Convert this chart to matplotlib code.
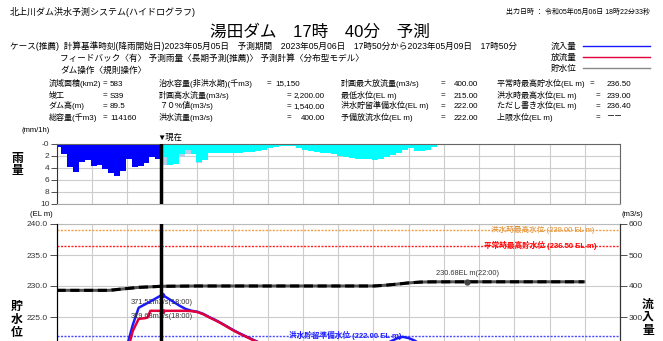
import matplotlib
matplotlib.use('Agg')
import matplotlib.pyplot as plt
from matplotlib.lines import Line2D

plt.rcParams['font.family'] = ['Liberation Sans', 'Noto Sans CJK JP', 'DejaVu Sans']

# hours counted from 2023-05-06 00:00, hourly rain bars
now_h = 17 + 50 / 60
x_end = 96

obs_rain = [0.55, 1.8, 3.9, 4.7, 3.1, 2.8, 3.75, 3.6, 4.2, 4.9, 5.4, 4.6,
            2.65, 3.9, 3.75, 3.2, 2.2, 2.5]
fc_rain = [2.2, 3.5, 3.4, 1.8, 1.0, 1.8, 3.0, 2.7, 1.5, 1.5, 1.55, 1.55,
           1.55, 1.5, 1.45, 1.35, 1.3, 1.1, 0.8, 0.55, 0.35, 0.35, 0.4, 0.7,
           1.0, 1.3, 1.45, 1.55, 1.6, 1.8, 2.1, 2.3, 2.45, 2.55, 2.6, 2.65,
           2.7, 2.5, 2.3, 1.9, 1.5, 1.0, 0.7, 1.3, 1.2, 1.0, 0.6, 0.3]
fc_rain_pale = [3.6, 3.5, 3.4, 2.2, 1.7, 1.8, 3.3, 2.7]

inflow_h = [0, 6, 10, 11, 12, 13, 14, 15, 16, 17, 18, 19, 20, 21, 22, 23, 24,
            25, 26, 27, 28, 29, 30, 31, 32, 33, 34, 35, 36, 40, 45, 50, 54,
            56, 57, 58, 59, 60, 61, 62, 64, 70, 80, now_h + 72]
inflow = [120, 125, 140, 160, 205, 275, 330, 340, 350, 361, 371.52, 360, 348,
          336, 326, 320, 317, 310, 300, 291, 281, 270, 259, 249, 240, 231,
          222, 214, 206, 188, 175, 172, 190, 212, 222, 231, 236, 232, 224,
          212, 195, 165, 150, 140]

outflow_h = [0, 6, 10, 12, 13, 14, 15, 15.5, 16, 17, 18, 19, 20, 21, 22, 23,
             24, 25, 26, 27, 28, 29, 30, 31, 32, 33, 34, 35, 36, 40, 48, 60,
             70, now_h + 72]
outflow = [110, 115, 130, 185, 255, 294, 296, 298, 320, 320, 319.68, 320,
           320, 320, 320, 319, 316, 309, 299, 290, 280, 269, 258, 248, 239,
           230, 221, 213, 205, 185, 165, 155, 150, 145]

level_h = [0, 9, 11, 14, now_h, 24, 54, 56, 58, 60, 62, 64, 70, now_h + 72]
level = [229.3, 229.3, 229.5, 229.78, 229.95, 230.0, 230.0, 230.12, 230.3,
         230.5, 230.63, 230.67, 230.68, 230.68]

ref_levels = [239.0, 236.5, 222.0]
ref_names = ['洪水時最高水位', '平常時最高貯水位', '洪水貯留準備水位']
ref_colors = ['#f0a048', '#ff2020', '#4a4aff']
ref_text_colors = ['#e08a28', '#ff0000', '#1a1aff']
ref_label_x = [82.9, 82.4, 49.2]

W, H = 663, 341


def fx(x):
    return x / W


def fy(y):
    return 1 - y / H


fig = plt.figure(figsize=(W / 100, H / 100), dpi=100)

# ---------------- header ----------------
fig.text(fx(10), fy(12), '北上川ダム洪水予測システム(ハイドログラフ)', fontsize=6.5,
         va='center', ha='left')
fig.text(fx(650), fy(12), '出力日時 ： 令和05年05月06日 18時22分33秒', fontsize=5,
         va='center', ha='right')
fig.text(fx(320), fy(32), '湯田ダム　17時　40分　予測', fontsize=12,
         va='center', ha='center')
fig.text(fx(10), fy(46), 'ケース(推薦)  計算基準時刻(降雨開始日)2023年05月05日　予測期間　'
         '2023年05月06日　17時50分から2023年05月09日　17時50分', fontsize=6.2,
         va='center', ha='left')
fig.text(fx(60), fy(58), 'フィードバック〈有〉 予測雨量〈長期予測(推薦)〉 予測計算〈分布型モデル〉',
         fontsize=6.2, va='center', ha='left')
fig.text(fx(60), fy(70), 'ダム操作〈規則操作〉', fontsize=6.2, va='center', ha='left')

row_y = [83, 95, 106, 117]
col1 = ['流域面積(km2)', '竣工', 'ダム高(m)', '総容量(千m3)']
col1_v = ['583', 'S39', '89.5', '114160']
col2 = ['治水容量(非洪水期)(千m3)', '計画高水流量(m3/s)', '７０%値(m3/s)', '洪水流量(m3/s)']
col2_v = ['15,150', '2,200.00', '1,540.00', '400.00']
col3 = ['計画最大放流量(m3/s)', '最低水位(EL m)', '洪水貯留準備水位(EL m)', '予備放流水位(EL m)']
col3_v = ['400.00', '215.00', '222.00', '222.00']
col4 = ['平常時最高貯水位(EL m)', '洪水時最高水位(EL m)', 'ただし書き水位(EL m)', '上限水位(EL m)']
col4_v = ['236.50', '239.00', '236.40', '－－']

fs_t = 5.8


def cell(x, y, s, ha='left'):
    fig.text(fx(x), fy(y + 2.5), s, fontsize=fs_t, va='baseline', ha=ha)


for i, y in enumerate(row_y):
    cell(49, y, col1[i])
    cell(103, y, '=')
    cell(110, y, col1_v[i])

    cell(159, y, col2[i])
    if i == 0:
        cell(267, y, '=')
        cell(275, y, col2_v[i])
    else:
        cell(287, y, '=')
        cell(325, y, col2_v[i], ha='right')

    cell(341, y, col3[i])
    cell(441, y, '=')
    cell(478, y, col3_v[i], ha='right')

    cell(497, y, col4[i])
    cell(590 if i == 0 else 596, y, '=')
    cell(607, y, col4_v[i])

# legend in the header
leg_names = ['流入量', '放流量', '貯水位']
leg_colors = ['#1a1aff', '#e0003c', '#888888']
for i, (name, c) in enumerate(zip(leg_names, leg_colors)):
    y = 46 + 11 * i
    fig.text(fx(551), fy(y), name, fontsize=6.2, va='center')
    fig.add_artist(Line2D([fx(583), fx(650)], [fy(y), fy(y)], color=c, lw=1,
                          transform=fig.transFigure))

# ---------------- rain axis ----------------
ax_r = fig.add_axes([fx(56.5), fy(203.5), (620 - 56.5) / W, 60 / H])
obs_x = [now_h - len(obs_rain) + k for k in range(len(obs_rain))]
ax_r.bar(obs_x, obs_rain, width=1, align='edge', color='#0000ff', zorder=2)
fc_x = [now_h + k for k in range(len(fc_rain))]
ax_r.bar(fc_x[:len(fc_rain_pale)], fc_rain_pale, width=1, align='edge',
         color='#b4cfe6', zorder=2)
ax_r.bar(fc_x, fc_rain, width=1, align='edge', color='#00ffff', zorder=2)
ax_r.axvline(now_h, color='black', lw=2.5, zorder=5)
ax_r.set_xlim(0, x_end)
ax_r.set_ylim(10, 0)
ax_r.set_yticks([0, 2, 4, 6, 8, 10])
ax_r.set_yticklabels(['-0', '2', '4', '6', '8', '10'])
ax_r.set_xticks(range(0, x_end + 1, 6))
ax_r.tick_params(axis='x', length=0, labelbottom=False)
ax_r.tick_params(axis='y', length=4, width=0.6, labelsize=6, pad=1, colors='#333333')
ax_r.grid(True, color='#cccccc', lw=0.8, zorder=0)
ax_r.set_axisbelow(True)
ax_r.spines['left'].set_color('#333333')
ax_r.spines['top'].set_color('#666666')
ax_r.spines['right'].set_color('#666666')
ax_r.spines['bottom'].set_color('#aaaaaa')
ax_r.text(now_h - 0.6, -0.35, '▼現在', fontsize=6, ha='left', va='bottom')

fig.text(fx(22), fy(130), '(mm/1h)', fontsize=5.5, va='center')
fig.text(fx(17), fy(165), '雨\n量', fontsize=8.5, fontweight='bold',
         ha='center', va='center', linespacing=1.1)

# ---------------- level / discharge axis ----------------
ax = fig.add_axes([fx(56.5), fy(410), (620 - 56.5) / W, 186 / H])
axq = ax.twinx()

ax.set_xlim(0, x_end)
ax.set_ylim(210, 240)
ax.set_yticks([215, 220, 225, 230, 235, 240])
ax.set_yticklabels(['', '', '225.0', '230.0', '235.0', '240.0'])
ax.set_xticks(range(0, x_end + 1, 6))
ax.tick_params(axis='x', length=0, labelbottom=False)
ax.tick_params(axis='y', length=5, width=0.6, labelsize=6, pad=1, colors='#333333')
ax.grid(True, color='#cccccc', lw=0.8)
ax.set_axisbelow(True)
ax.spines['top'].set_color('#bbbbbb')
ax.spines['left'].set_color('#333333')

axq.set_ylim(0, 600)
axq.set_yticks(range(0, 601, 100))
axq.set_yticklabels(['', '', '', '300', '400', '500', '600'])
axq.tick_params(axis='y', length=5, width=0.6, labelsize=6, pad=1, colors='#333333')
axq.spines['right'].set_color('#333333')
axq.spines['top'].set_visible(False)

for lv, name, c, tc, lx in zip(ref_levels, ref_names, ref_colors, ref_text_colors,
                               ref_label_x):
    ax.axhline(lv, color=c, lw=1, ls=(0, (1.5, 1)), zorder=4)
    ax.text(lx, lv, f'{name} ({lv:.2f} EL m)', fontsize=5.5, color=tc,
            ha='center', va='center', zorder=3,
            fontweight='normal' if lv == 239.0 else 'bold')

# reservoir level: dark line with black dashes on top
ax.plot(level_h, level, color='#555555', lw=2.2, zorder=5)
ax.plot(level_h, level, color='black', lw=2.2, dashes=(3, 1.5), zorder=6)
ax.plot([70], [230.68], 'o', color='#444444', ms=3.5, zorder=7)
ax.annotate('230.68EL m(22:00)', (70, 230.68), xytext=(0, 6.3),
            textcoords='offset points', ha='center', va='center',
            fontsize=5.3, color='#333333')

axq.plot(inflow_h, inflow, color='#1a1aff', lw=1.8, zorder=3)
axq.plot(outflow_h, outflow, color='#e0003c', lw=1.8, zorder=4)
axq.plot([18], [371.52], 'o', color='#1a1aff', ms=3, zorder=5)
axq.plot([18], [319.68], 'o', color='#e0003c', ms=3, zorder=5)
axq.annotate('371.52m3/s(18:00)', (18, 371.52), xytext=(0, -5.5),
             textcoords='offset points', ha='center', va='center',
             fontsize=5.3, color='#333333', zorder=6)
axq.annotate('319.68m3/s(18:00)', (18, 319.68), xytext=(0, -3.7),
             textcoords='offset points', ha='center', va='center',
             fontsize=5.3, color='#333333', zorder=6)
axq.axvline(now_h, color='black', lw=2.5, zorder=8)

fig.text(fx(30), fy(214), '(EL m)', fontsize=5.5, va='center')
fig.text(fx(621), fy(215), '(m3/s)', fontsize=5.5, va='center')
fig.text(fx(17), fy(320), '貯\n水\n位', fontsize=8.5, fontweight='bold',
         ha='center', va='center', linespacing=1.1)
fig.text(fx(648), fy(318), '流\n入\n量', fontsize=8.5, fontweight='bold',
         ha='center', va='center', linespacing=1.1)

fig.savefig('out.png', dpi=100)
